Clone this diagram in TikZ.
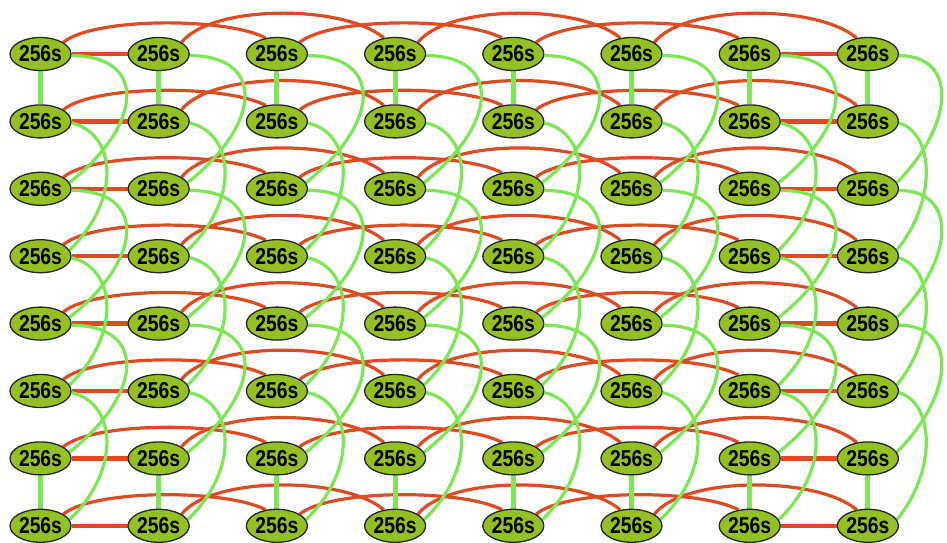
\documentclass[tikz,border=0pt]{standalone}
\usepackage{fontspec}
\newfontfamily\nodefont[FakeStretch=0.84]{Liberation Sans}
\usetikzlibrary{shapes.geometric,backgrounds}
\definecolor{linkred}{RGB}{222,74,34}
\definecolor{linkgreen}{RGB}{124,230,84}
\definecolor{nodefill}{RGB}{148,192,36}
\tikzset{
  proc/.style={ellipse, draw=black!85, line width=1.3pt, fill=nodefill,
    minimum width=61pt, minimum height=33pt, inner sep=0pt,
    font=\nodefont\bfseries\fontsize{23}{23}\selectfont},
  redstraight/.style={draw=linkred, line width=4.5pt},
  redarc/.style={draw=linkred, line width=3.2pt},
  greenstraight/.style={draw=linkgreen, line width=5pt},
  greenarc/.style={draw=linkgreen, line width=3.2pt},
}
\begin{document}
\begin{tikzpicture}[x=1pt,y=-1pt]
\useasboundingbox (0,0) rectangle (947,543);
\foreach \rr in {0,...,7}{
  \foreach \cc in {0,...,7}{
    \node[proc] (n\rr\cc) at ({40.5+118.2*\cc},{54+67.4*\rr}) {256s};
  }
}
\begin{pgfonlayer}{background}
\fill[white] (0,0) rectangle (947,543);
\foreach \rr in {0,...,7}{
  \draw[redstraight] (n\rr0.east) -- (n\rr1.west);
  \draw[redstraight] (n\rr6.east) -- (n\rr7.west);
  \foreach \pa/\pb in {0/2,2/4,4/6}{
    \draw[redarc] (n\rr\pa.27) .. controls +(30,-25) and +(-40,-21) .. (n\rr\pb.125);
  }
  \foreach \pa/\pb in {1/3,3/5,5/7}{
    \draw[redarc] (n\rr\pa.27) .. controls +(30,-38) and +(-40,-34) .. (n\rr\pb.125);
  }
}
\foreach \cc in {0,...,7}{
  \draw[greenstraight] (n0\cc.south) -- (n1\cc.north);
  \draw[greenstraight] (n6\cc.south) -- (n7\cc.north);
  \pgfmathsetmacro\gk{\cc==7 ? 0.78 : 1}
  \foreach \pa/\pb in {0/2,2/4,4/6}{
    \draw[greenarc] (n\pa\cc.-3) .. controls +({75*\gk},0) and +({75*\gk},-60) .. (n\pb\cc.12);
  }
  \foreach \pa/\pb in {1/3,3/5,5/7}{
    \draw[greenarc] (n\pa\cc.-3) .. controls +({45*\gk},10) and +({52*\gk},-50) .. (n\pb\cc.12);
  }
}
\end{pgfonlayer}
\end{tikzpicture}
\end{document}
